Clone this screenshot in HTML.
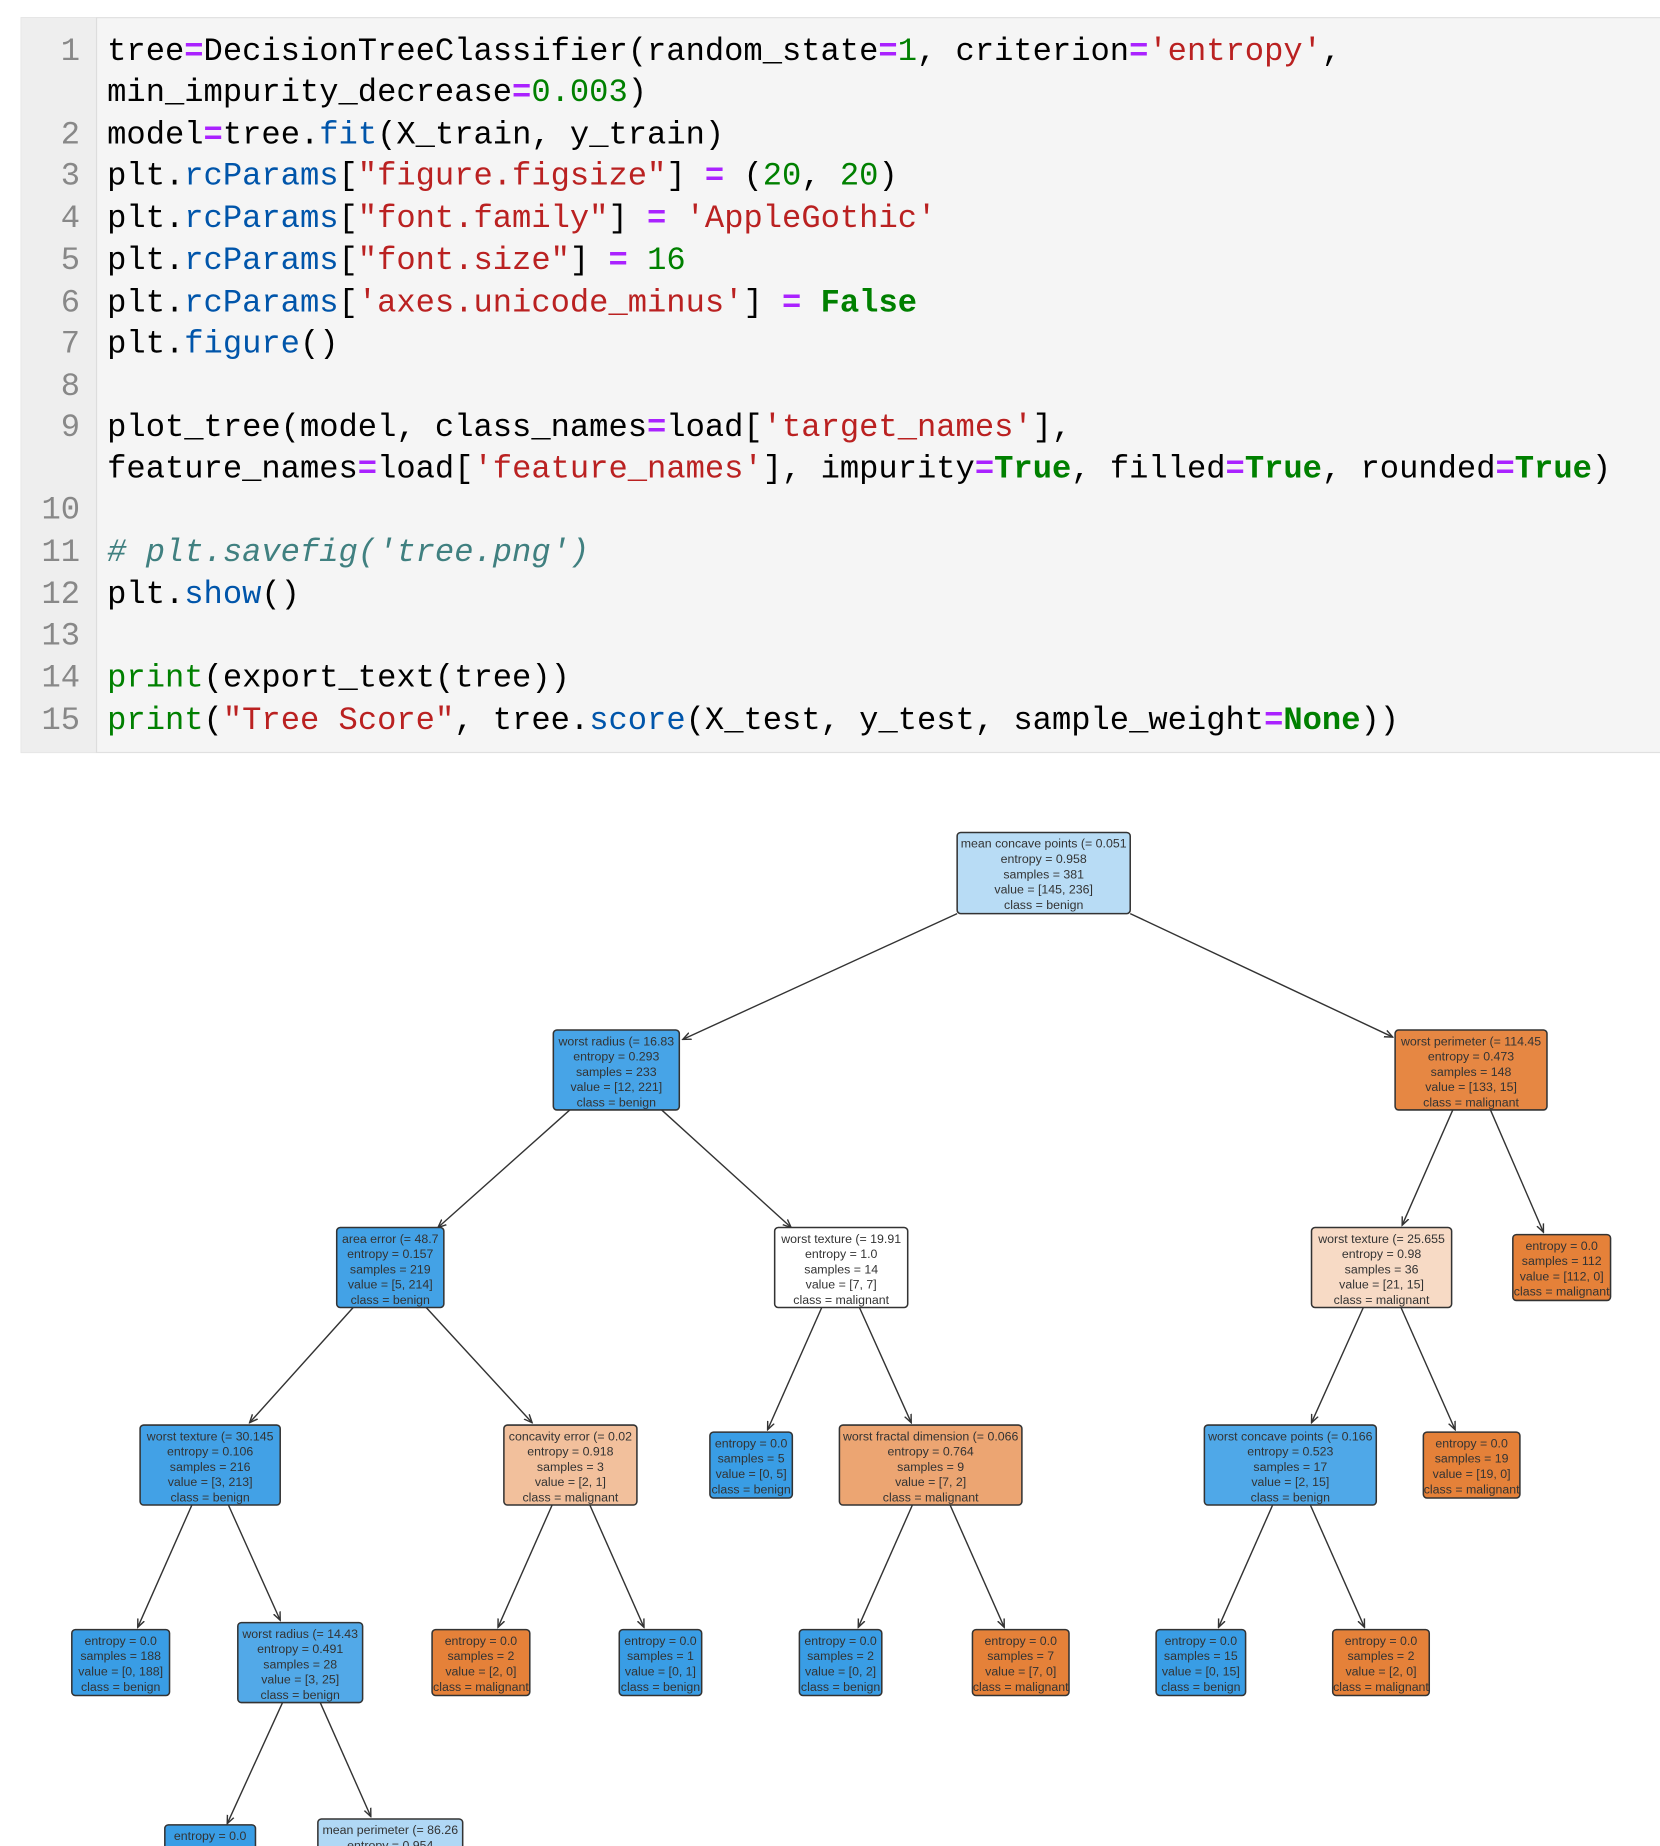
<!DOCTYPE html>
<html><head><meta charset="utf-8"><style>
html,body{margin:0;padding:0;background:#fff;width:1660px;height:1846px;overflow:hidden}
svg{display:block}
.c{font-family:"Liberation Mono","DejaVu Sans Mono",monospace;font-size:27.3px;fill:#000}
.n{fill:#888}
.p{fill:#aa22ff;font-weight:bold}
.s{fill:#ba2121}
.g{fill:#008000}
.b{fill:#0055aa}
.k{fill:#008000;font-weight:bold}
.cm{fill:#408080;font-style:italic}
.t{font-family:"Liberation Sans Narrow","Liberation Sans",sans-serif;font-size:10.5px;fill:#333;text-anchor:middle}
</style></head><body>
<svg id="s" width="1660" height="1846" viewBox="0 0 1410 1570" preserveAspectRatio="none" xmlns="http://www.w3.org/2000/svg">
<defs><marker id="a" markerWidth="8" markerHeight="8" refX="7" refY="4" orient="auto" markerUnits="userSpaceOnUse"><path d="M0,1 L7,4 L0,7" fill="none" stroke="#333" stroke-width="1.2"/></marker></defs>
<rect x="18" y="15" width="1402" height="625" fill="#f5f5f5" stroke="#e0e0e0"/>
<rect x="18" y="15" width="64" height="625" fill="#eeeeee"/>
<line x1="82" y1="15" x2="82" y2="640" stroke="#ddd"/>
<g class="c">
<text x="68" y="51" class="n" text-anchor="end">1</text>
<text x="91" y="51">tree<tspan class="p">=</tspan>DecisionTreeClassifier(random_state<tspan class="p">=</tspan><tspan class="g">1</tspan>, criterion<tspan class="p">=</tspan><tspan class="s">'entropy'</tspan>,</text>
<text x="91" y="86">min_impurity_decrease<tspan class="p">=</tspan><tspan class="g">0.003</tspan>)</text>
<text x="68" y="122" class="n" text-anchor="end">2</text>
<text x="91" y="122">model<tspan class="p">=</tspan>tree.<tspan class="b">fit</tspan>(X_train, y_train)</text>
<text x="68" y="157" class="n" text-anchor="end">3</text>
<text x="91" y="157">plt.<tspan class="b">rcParams</tspan>[<tspan class="s">"figure.figsize"</tspan>] <tspan class="p">=</tspan> (<tspan class="g">20</tspan>, <tspan class="g">20</tspan>)</text>
<text x="68" y="193" class="n" text-anchor="end">4</text>
<text x="91" y="193">plt.<tspan class="b">rcParams</tspan>[<tspan class="s">"font.family"</tspan>] <tspan class="p">=</tspan> <tspan class="s">'AppleGothic'</tspan></text>
<text x="68" y="229" class="n" text-anchor="end">5</text>
<text x="91" y="229">plt.<tspan class="b">rcParams</tspan>[<tspan class="s">"font.size"</tspan>] <tspan class="p">=</tspan> <tspan class="g">16</tspan></text>
<text x="68" y="265" class="n" text-anchor="end">6</text>
<text x="91" y="265">plt.<tspan class="b">rcParams</tspan>[<tspan class="s">'axes.unicode_minus'</tspan>] <tspan class="p">=</tspan> <tspan class="k">False</tspan></text>
<text x="68" y="300" class="n" text-anchor="end">7</text>
<text x="91" y="300">plt.<tspan class="b">figure</tspan>()</text>
<text x="68" y="336" class="n" text-anchor="end">8</text>
<text x="68" y="371" class="n" text-anchor="end">9</text>
<text x="91" y="371">plot_tree(model, class_names<tspan class="p">=</tspan>load[<tspan class="s">'target_names'</tspan>],</text>
<text x="91" y="406">feature_names<tspan class="p">=</tspan>load[<tspan class="s">'feature_names'</tspan>], impurity<tspan class="p">=</tspan><tspan class="k">True</tspan>, filled<tspan class="p">=</tspan><tspan class="k">True</tspan>, rounded<tspan class="p">=</tspan><tspan class="k">True</tspan>)</text>
<text x="68" y="441" class="n" text-anchor="end">10</text>
<text x="68" y="477" class="n" text-anchor="end">11</text>
<text x="91" y="477" class="cm"># plt.savefig('tree.png')</text>
<text x="68" y="513" class="n" text-anchor="end">12</text>
<text x="91" y="513">plt.<tspan class="b">show</tspan>()</text>
<text x="68" y="548" class="n" text-anchor="end">13</text>
<text x="68" y="584" class="n" text-anchor="end">14</text>
<text x="91" y="584"><tspan class="g">print</tspan>(export_text(tree))</text>
<text x="68" y="620" class="n" text-anchor="end">15</text>
<text x="91" y="620"><tspan class="g">print</tspan>(<tspan class="s">"Tree Score"</tspan>, tree.<tspan class="b">score</tspan>(X_test, y_test, sample_weight<tspan class="p">=</tspan><tspan class="k">None</tspan>))</text>
</g>
<g transform="translate(0,2)">
<g id="edges" stroke="#333" stroke-width="1.2" marker-end="url(#a)"></g>
<g id="nodes"></g>
</g>
</svg>
<script>
var E=[[813,775,580,882],[960,775,1183,880],[484,942,372,1042],[562,942,672,1042],[1234,942,1191,1040],[1266,942,1311,1046],
[300,1110,212,1208],[362,1110,452,1208],[698,1110,652,1214],[730,1110,774,1208],[1158,1110,1114,1208],[1190,1110,1236,1214],
[163,1278,117,1382],[194,1278,238,1376],[469,1278,423,1382],[501,1278,547,1382],[775,1278,729,1382],[807,1278,853,1382],
[1081,1278,1035,1382],[1113,1278,1159,1382],[240,1446,193,1549],[272,1446,315,1543]];
var eg=document.getElementById('edges'),ns='http://www.w3.org/2000/svg';
E.forEach(function(e){var l=document.createElementNS(ns,'line');l.setAttribute('x1',e[0]);l.setAttribute('y1',e[1]);l.setAttribute('x2',e[2]);l.setAttribute('y2',e[3]);eg.appendChild(l);});
var N=[
[813,706,147,69,'#b8dcf5',['mean concave points (= 0.051','entropy = 0.958','samples = 381','value = [145, 236]','class = benign']],
[470,874,107,68,'#47a4e7',['worst radius (= 16.83','entropy = 0.293','samples = 233','value = [12, 221]','class = benign']],
[1185,874,129,68,'#e68743',['worst perimeter (= 114.45','entropy = 0.473','samples = 148','value = [133, 15]','class = malignant']],
[286,1042,91,68,'#43a2e6',['area error (= 48.7','entropy = 0.157','samples = 219','value = [5, 214]','class = benign']],
[658,1042,113,68,'#ffffff',['worst texture (= 19.91','entropy = 1.0','samples = 14','value = [7, 7]','class = malignant']],
[1114,1042,119,68,'#f7dac5',['worst texture (= 25.655','entropy = 0.98','samples = 36','value = [21, 15]','class = malignant']],
[1285,1048,83,56,'#e58139',['entropy = 0.0','samples = 112','value = [112, 0]','class = malignant']],
[119,1210,119,68,'#42a1e6',['worst texture (= 30.145','entropy = 0.106','samples = 216','value = [3, 213]','class = benign']],
[428,1210,113,68,'#f2c09c',['concavity error (= 0.02','entropy = 0.918','samples = 3','value = [2, 1]','class = malignant']],
[603,1216,70,56,'#399de5',['entropy = 0.0','samples = 5','value = [0, 5]','class = benign']],
[713,1210,155,68,'#eca572',['worst fractal dimension (= 0.066','entropy = 0.764','samples = 9','value = [7, 2]','class = malignant']],
[1023,1210,146,68,'#4fa8e8',['worst concave points (= 0.166','entropy = 0.523','samples = 17','value = [2, 15]','class = benign']],
[1209,1216,82,56,'#e58139',['entropy = 0.0','samples = 19','value = [19, 0]','class = malignant']],
[61,1384,83,56,'#399de5',['entropy = 0.0','samples = 188','value = [0, 188]','class = benign']],
[202,1378,106,68,'#52a9e8',['worst radius (= 14.43','entropy = 0.491','samples = 28','value = [3, 25]','class = benign']],
[367,1384,83,56,'#e58139',['entropy = 0.0','samples = 2','value = [2, 0]','class = malignant']],
[526,1384,70,56,'#399de5',['entropy = 0.0','samples = 1','value = [0, 1]','class = benign']],
[679,1384,70,56,'#399de5',['entropy = 0.0','samples = 2','value = [0, 2]','class = benign']],
[826,1384,82,56,'#e58139',['entropy = 0.0','samples = 7','value = [7, 0]','class = malignant']],
[982,1384,76,56,'#399de5',['entropy = 0.0','samples = 15','value = [0, 15]','class = benign']],
[1132,1384,82,56,'#e58139',['entropy = 0.0','samples = 2','value = [2, 0]','class = malignant']],
[140,1550,77,56,'#399de5',['entropy = 0.0','samples = 2','value = [0, 2]','class = benign']],
[270,1545,123,68,'#b0d8f5',['mean perimeter (= 86.26','entropy = 0.954','samples = 8','value = [3, 5]','class = benign']]
];
var ng=document.getElementById('nodes');
N.forEach(function(n){var r=document.createElementNS(ns,'rect');r.setAttribute('x',n[0]);r.setAttribute('y',n[1]);r.setAttribute('width',n[2]);r.setAttribute('height',n[3]);r.setAttribute('rx',3);r.setAttribute('fill',n[4]);r.setAttribute('stroke','#333');r.setAttribute('stroke-width','1.3');ng.appendChild(r);
n[5].forEach(function(s,i){var t=document.createElementNS(ns,'text');t.setAttribute('class','t');t.setAttribute('x',n[0]+n[2]/2);t.setAttribute('y',n[1]+13+i*13);t.textContent=s;ng.appendChild(t);});});
</script>
</body></html>
